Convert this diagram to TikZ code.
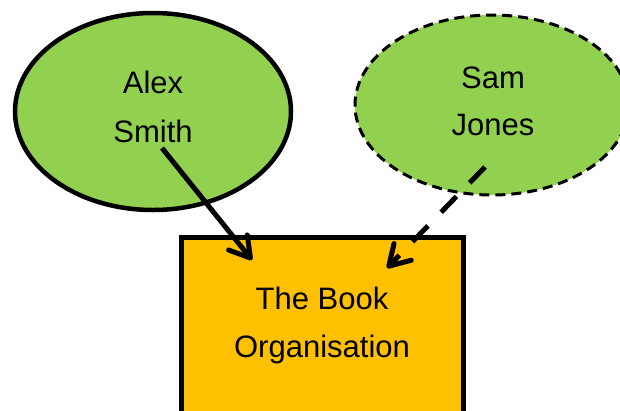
\documentclass[tikz,border=0pt]{standalone}
\usepackage{fontspec}
\setmainfont{Liberation Sans}
\usetikzlibrary{shapes.geometric,arrows.meta}
\definecolor{leafgreen}{HTML}{92D050}
\definecolor{bookorange}{HTML}{FFC000}
\begin{document}
\begin{tikzpicture}[x=1pt,y=-1pt,
  person/.style={ellipse, fill=leafgreen, draw=black, inner sep=0pt},
  orgbox/.style={rectangle, fill=bookorange, draw=black, line width=5pt, inner sep=0pt},
  txt/.style={font=\fontsize{31}{37}\selectfont, anchor=base, inner sep=0pt},
  link/.style={line width=5pt, -{Straight Barb[length=20pt,width=24pt,round]}},
]
\useasboundingbox (0,0) rectangle (620,410);
\clip (0,0) rectangle (620,410);
\node[person, line width=4.5pt, minimum width=276pt, minimum height=197pt] (alex) at (153,111.5) {};
\node[person, line width=3pt, dash pattern=on 10pt off 6pt, minimum width=274pt, minimum height=180pt] (sam) at (492,105) {};
\node[orgbox, minimum width=281.5pt, minimum height=260pt] (book) at (322.25,367.5) {};
\node[txt] (alex1) at (153,93) {Alex};
\node[txt] (alex2) at (153,142) {Smith};
\node[txt] (sam1) at (493,88) {Sam};
\node[txt] (sam2) at (493,135) {Jones};
\node[txt] (book1) at (322,309) {The Book};
\node[txt] (book2) at (322,357) {Organisation};
\coordinate (a-start) at (162,148);
\coordinate (a-end) at (252,260);
\coordinate (s-start) at (485,167);
\coordinate (s-end) at (387,268);
\draw[link] (a-start) -- (a-end);
\draw[link, dash pattern=on 22pt off 19pt] (s-start) -- (s-end);
\end{tikzpicture}
\end{document}
